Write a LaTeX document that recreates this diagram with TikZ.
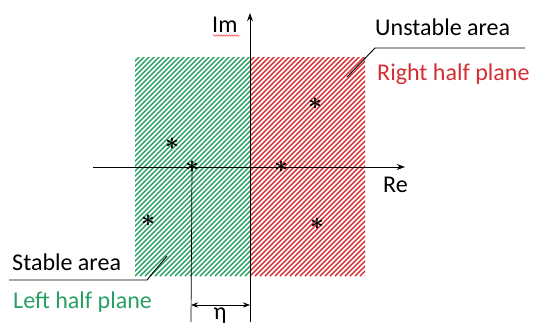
\documentclass[tikz,border=0pt]{standalone}
\usepackage{fontspec}
\setmainfont{Carlito}
\usetikzlibrary{arrows.meta, positioning, calc, decorations.pathmorphing}
\definecolor{stablegreen}{RGB}{40,160,100}
\definecolor{unstablered}{RGB}{215,45,50}

\begin{document}
\begin{tikzpicture}[x=0.03cm, y=-0.03cm, font=\fontsize{20.5}{24}\selectfont,
    label/.style={anchor=base west, inner sep=0pt},
    pole/.style={inner sep=0pt, font=\fontsize{22}{22}\selectfont\boldmath},
    hatch/.style={line width=1.2pt},
    axis/.style={line width=0.8pt, -{Stealth[length=7pt, width=5pt]}},
    leader/.style={line width=0.8pt}]
    \useasboundingbox (0,0) rectangle (536,325);

    % hatched half planes
    \foreach \xl/\xr/\col in {135/250/stablegreen, 250/365/unstablered} {
        \begin{scope}
            \clip (\xl,57) rectangle (\xr,276);
            \foreach \s in {0,5,...,340} {\draw[hatch, \col] ({\xl-220+\s},276) -- ++(220,-220);}
        \end{scope}
    }

    % axes
    \coordinate (re west) at (93,167);
    \coordinate (re east) at (405,167);
    \coordinate (im south) at (250,322);
    \coordinate (im north) at (250,13);
    \draw[axis] (re west) -- (re east);
    \draw[axis] (im south) -- (im north);
    \node[label] (re) at (383,192) {Re};
    \node[label] (im) at (212,32) {Im};
    \coordinate (squig west) at (213,35.5);
    \coordinate (squig east) at (240,35.5);
    \draw[red!80, line width=0.4pt, decorate, decoration={snake, segment length=2.2pt, amplitude=0.7pt}] (squig west) -- (squig east);

    % poles
    \node[pole] (p1) at (172,144) {$\ast$};
    \node[pole] (p2) at (192,167) {$\ast$};
    \node[pole] (p3) at (148,221) {$\ast$};
    \node[pole] (p4) at (315,104) {$\ast$};
    \node[pole] (p5) at (281,167) {$\ast$};
    \node[pole] (p6) at (317,224) {$\ast$};

    % stability margin
    \coordinate (eta foot) at (191,322);
    \coordinate (eta left) at (191,305);
    \coordinate (eta right) at (250,305);
    \draw[line width=0.6pt] (p2.center) -- (eta foot);
    \draw[line width=0.6pt, {Stealth[length=6pt, width=4.5pt]}-{Stealth[length=6pt, width=4.5pt]}] (eta left) -- (eta right);
    \node[anchor=north, inner sep=0pt] (eta) at (220,308) {η};

    % area labels
    \node[label] (unstable) at (375,35.5) {Unstable area};
    \node[label, text=unstablered] (rhp) at (377,80) {Right half plane};
    \coordinate (unstable end) at (525,48);
    \coordinate (unstable knee) at (375,48);
    \coordinate (unstable tip) at (347,77);
    \draw[leader] (unstable end) -- (unstable knee) -- (unstable tip);

    \node[label] (stable) at (12,270.5) {Stable area};
    \node[label, text=stablegreen] (lhp) at (13,308) {Left half plane};
    \coordinate (stable end) at (9,280);
    \coordinate (stable knee) at (147,280);
    \coordinate (stable tip) at (167,256);
    \draw[leader] (stable end) -- (stable knee) -- (stable tip);
\end{tikzpicture}
\end{document}
